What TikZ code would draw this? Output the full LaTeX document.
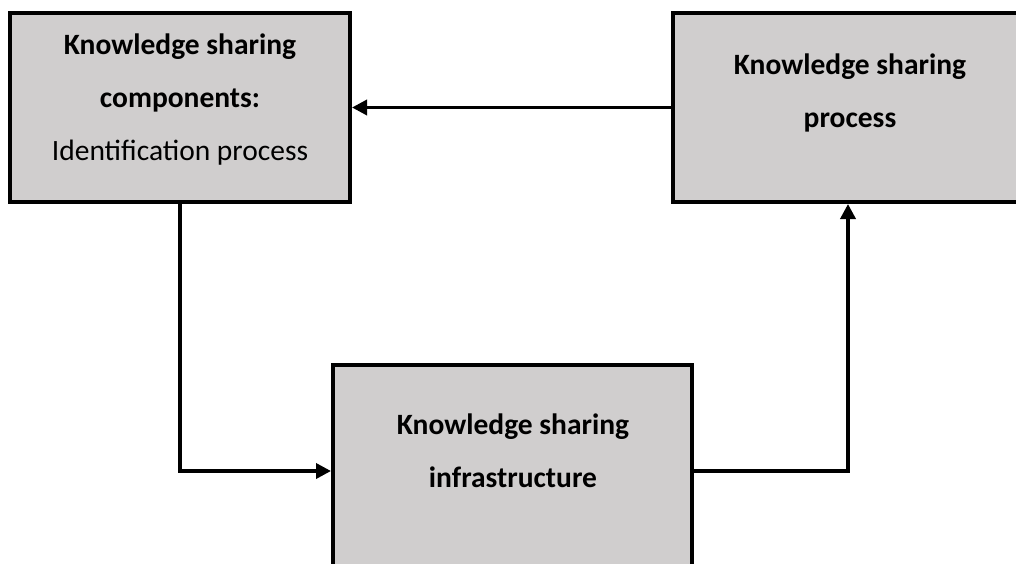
\documentclass[tikz,border=0pt]{standalone}
\usepackage{fontspec}
\setmainfont{Carlito}
\usetikzlibrary{arrows.meta}
\definecolor{boxgray}{HTML}{D0CECE}

\begin{document}
\begin{tikzpicture}[x=1pt, y=-1pt,
  box/.style={draw, line width=4pt, fill=boxgray, inner sep=0pt},
  txt/.style={align=center, font=\fontsize{29.5}{53}\selectfont},
  arr/.style={draw, line width=3.5pt, -{Triangle[length=15pt,width=15pt]}}]
  \useasboundingbox (0,0) rectangle (1016,564);
  \clip (0,0) rectangle (1016,564);

  \node[box, minimum width=340pt, minimum height=189pt] (comp) at (180,107.5) {};
  \node[box, minimum width=350pt, minimum height=189pt] (proc) at (848,107.5) {};
  \node[box, minimum width=359pt, minimum height=212pt] (infra) at (512.5,471) {};

  \node[txt] (compt) at (180,100) {\textbf{Knowledge sharing}\\ \textbf{components:}\\ Identification process};
  \node[txt] (proct) at (850,93) {\textbf{Knowledge sharing}\\ \textbf{process}};
  \node[txt] (infrat) at (513,451) {\textbf{Knowledge sharing}\\ \textbf{infrastructure}};

  \draw[arr] (proc.west) -- (comp.east);
  \draw[arr] (comp.south) |- (infra.west);
  \draw[arr] (infra.east) -| (proc.south);
\end{tikzpicture}
\end{document}
